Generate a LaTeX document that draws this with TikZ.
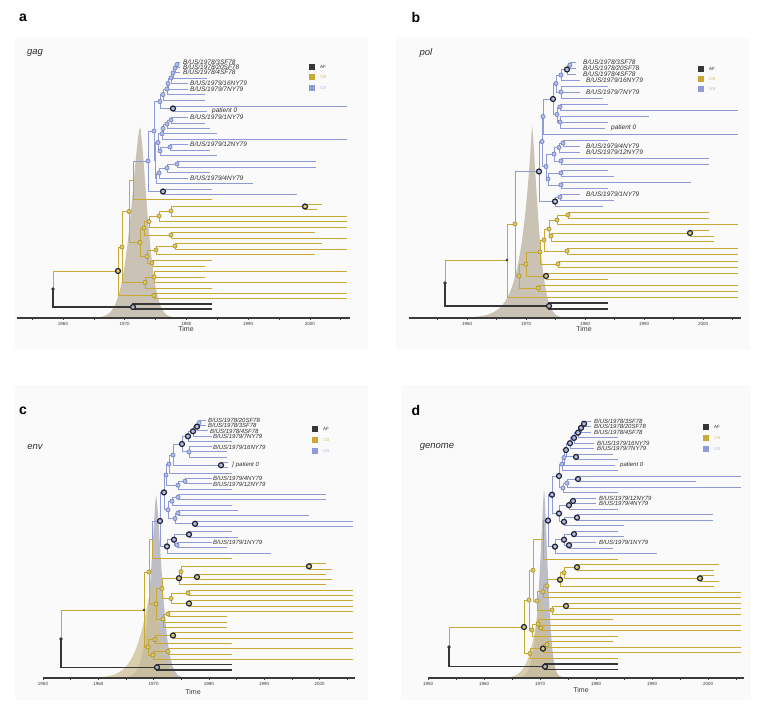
\documentclass[tikz,border=0pt]{standalone}
\usepackage{fontspec}
\setmainfont{Liberation Sans}
\definecolor{usc}{HTML}{8E9BD6}
\definecolor{usd}{HTML}{6E7CC0}
\definecolor{usl}{HTML}{B4BDE6}
\definecolor{cbc}{HTML}{C8A934}
\definecolor{cbd}{HTML}{A88F22}
\definecolor{cbl}{HTML}{DCC96E}
\definecolor{afc}{HTML}{363636}
\definecolor{dk}{HTML}{1E2130}
\definecolor{dens}{HTML}{C9C2B5}
\definecolor{densg}{HTML}{BDBDC5}
\definecolor{denst}{HTML}{CDBE92}
\definecolor{bgc}{HTML}{FAFAFA}
\definecolor{labc}{HTML}{2E2E2E}
\definecolor{axc}{HTML}{3A3A3A}
\newcounter{tipc}
\newcommand\Br[5]{\coordinate (#2) at (#3,#4); \draw[#5] (#1) |- (#2);}
\newcommand\Tp[4]{\stepcounter{tipc}\edef\tpn{tip\arabic{tipc}}\Br{#1}{\tpn}{#2}{#3}{#4}}
\begin{document}
\begin{tikzpicture}[x=1pt,y=-1pt,
  us/.style={draw=usc, line width=1},
  cb/.style={draw=cbc, line width=1},
  af/.style={draw=afc, line width=1.3},
  mus/.style={circle, draw=usd, fill=usl, line width=0.6, inner sep=0, minimum size=4.2},
  mcb/.style={circle, draw=cbd, fill=cbl, line width=0.6, inner sep=0, minimum size=4.2},
  mdk/.style={circle, draw=dk, fill=#1, line width=1.2, inner sep=0, minimum size=5},
  mdk/.default=white,
  mroot/.style={circle, fill=afc, inner sep=0, minimum size=3.8},
  msmall/.style={circle, fill=afc, inner sep=0, minimum size=2.6},
  laba/.style={font=\fontsize{6.5}{7}\selectfont\itshape, anchor=west, inner sep=0, text=labc},
  labc/.style={font=\fontsize{6}{6.5}\selectfont\itshape, anchor=west, inner sep=0, text=labc},
  plet/.style={font=\fontsize{14}{16}\selectfont\bfseries, inner sep=0},
  gene/.style={font=\fontsize{9.5}{11}\selectfont\itshape, inner sep=0, text=labc},
  lsq/.style={rectangle, inner sep=0, minimum size=6},
  ltx/.style={font=\fontsize{4.5}{5}\selectfont, anchor=west, inner sep=0},
  axis/.style={draw=axc, line width=1.5},
  tk/.style={draw=axc, line width=0.6},
  tkl/.style={font=\fontsize{4.5}{5}\selectfont, inner sep=0, text=axc},
  timel/.style={font=\fontsize{7}{8}\selectfont, inner sep=0, text=axc}]
\useasboundingbox (0,0) rectangle (762,707);
\fill[white] (0,0) rectangle (762,707);
% panel backgrounds
\fill[bgc] (15,38) rectangle (368,350);
\fill[bgc] (396,38) rectangle (750,350);
\fill[bgc] (15,385) rectangle (368,700);
\fill[bgc] (401,385) rectangle (751,700);
% densities
\fill[dens] plot[domain=80:140,samples=80] (\x,{318-191*exp(max(-9,-1*pow((140.01-\x)/13,1.5)))}) -- plot[domain=140:185,samples=60] (\x,{318-191*exp(max(-9,-1*pow((\x-139.99)/10.5,1.5)))}) -- cycle;
\fill[dens] plot[domain=440:532,samples=90] (\x,{318-193*exp(max(-9,-1*pow((532.01-\x)/11,1)))}) -- plot[domain=532:575,samples=60] (\x,{318-193*exp(max(-9,-1*pow((\x-531.99)/8.5,1.35)))}) -- cycle;
\fill[densg] plot[domain=100:156,samples=80] (\x,{678-183*exp(max(-9,-1*pow((156.01-\x)/8,1.3)))}) -- plot[domain=156:190,samples=60] (\x,{678-183*exp(max(-9,-1*pow((\x-155.99)/8.5,1.5)))}) -- cycle;
\fill[denst,opacity=0.75] plot[domain=95:152,samples=80] (\x,{678-95*exp(max(-9,-1*pow((152.01-\x)/14,1.2)))}) -- plot[domain=152:190,samples=60] (\x,{678-95*exp(max(-9,-1*pow((\x-151.99)/10,1.5)))}) -- cycle;
\fill[densg] plot[domain=495:544,samples=80] (\x,{678-189*exp(max(-9,-1*pow((544.01-\x)/6.5,1.3)))}) -- plot[domain=544:575,samples=60] (\x,{678-189*exp(max(-9,-1*pow((\x-543.99)/5.5,1.5)))}) -- cycle;
\fill[denst,opacity=0.75] plot[domain=490:541,samples=80] (\x,{678-80*exp(max(-9,-1*pow((541.01-\x)/10,1.3)))}) -- plot[domain=541:575,samples=60] (\x,{678-80*exp(max(-9,-1*pow((\x-540.99)/8,1.5)))}) -- cycle;
% axes
\draw[axis] (17,318) -- (350,318);
\foreach \yr in {1955,1960,...,2005} {\draw[tk] ({63+(\yr-1960)*6.17},318) -- ++(0,2);}
\foreach \yr in {1960,1970,...,2000} {\node[tkl] (at\yr) at ({63+(\yr-1960)*6.17},323.5) {\yr};}
\node[timel] (aTime) at (186,329) {Time};
\draw[axis] (409,318) -- (741,318);
\foreach \yr in {1955,1960,...,2005} {\draw[tk] ({467+(\yr-1960)*5.9},318) -- ++(0,2);}
\foreach \yr in {1960,1970,...,2000} {\node[tkl] (bt\yr) at ({467+(\yr-1960)*5.9},323.5) {\yr};}
\node[timel] (bTime) at (584,329) {Time};
\draw[axis] (43,678) -- (355,678);
\foreach \yr in {1950,1955,...,2005} {\draw[tk] ({43+(\yr-1950)*5.53},678) -- ++(0,2);}
\foreach \yr in {1950,1960,...,2000} {\node[tkl] (ct\yr) at ({43+(\yr-1950)*5.53},684) {\yr};}
\node[timel] (cTime) at (193,692) {Time};
\draw[axis] (428,678) -- (744,678);
\foreach \yr in {1950,1955,...,2005} {\draw[tk] ({428+(\yr-1950)*5.6},678) -- ++(0,2);}
\foreach \yr in {1950,1960,...,2000} {\node[tkl] (dt\yr) at ({428+(\yr-1950)*5.6},684) {\yr};}
\node[timel] (dTime) at (581,690) {Time};
% ================= panel a =================
\coordinate (aR) at (53,289);
\Br{aR}{aA}{133}{307}{af}
\Tp{aA}{212}{304}{af}
\Tp{aA}{212}{309}{af}
\Br{aR}{aN1}{118}{271}{cb}
\Br{aN1}{aP1}{154}{295.5}{cb}
\Tp{aP1}{347}{293}{cb}
\Tp{aP1}{347}{298}{cb}
\Br{aN1}{aN2}{122}{247}{cb}
\Br{aN2}{aQ}{145}{282.5}{cb}
\Br{aQ}{aQ1}{154}{277}{cb}
\Tp{aQ1}{347}{271}{cb}
\Tp{aQ1}{205}{277}{cb}
\Tp{aQ1}{347}{282}{cb}
\Tp{aQ}{212}{288}{cb}
\Br{aN2}{aN3}{129}{211.5}{cb}
\Br{aN3}{aC1}{140}{242.5}{cb}
\Br{aC1}{aC2}{144}{228}{cb}
\Br{aC2}{aC21}{149}{221.5}{cb}
\Br{aC21}{aC211}{159}{216}{cb}
\Br{aC211}{aD0}{171}{211}{cb}
\Br{aD0}{aD}{305}{206.5}{cb}
\Tp{aD}{322}{204}{cb}
\Tp{aD}{317}{209}{cb}
\Tp{aD0}{347}{216}{cb}
\Tp{aC211}{347}{221}{cb}
\Tp{aC21}{347}{227}{cb}
\Br{aC2}{aC22}{171}{235}{cb}
\Tp{aC22}{315}{232}{cb}
\Tp{aC22}{347}{238}{cb}
\Br{aC1}{aC3}{147}{256.5}{cb}
\Br{aC3}{aC31}{156}{250}{cb}
\Br{aC31}{aC311}{175}{246}{cb}
\Tp{aC311}{322}{243}{cb}
\Tp{aC311}{347}{249}{cb}
\Tp{aC31}{315}{254}{cb}
\Br{aC3}{aC32}{152}{263}{cb}
\Tp{aC32}{212}{260}{cb}
\Tp{aC32}{205}{266}{cb}
\Br{aN3}{aN4}{133}{180}{cb}
\Tp{aN4}{212}{199}{cb}
\Br{aN4}{aB0}{148}{161}{us}
\Br{aB0}{aB2}{163}{191.5}{us}
\Tp{aB2}{212}{189}{us}
\Tp{aB2}{297}{194}{us}
\Br{aB0}{aB1}{154}{131}{us}
\Br{aB1}{aB3}{160}{101.5}{us}
\Br{aB3}{aP0}{173}{108.5}{us}
\Tp{aP0}{347}{106}{us}
\Tp{aP0}{207}{111}{us}
\Br{aB3}{aS7}{163}{94.5}{us}
\Tp{aS7}{205}{100}{us}
\Br{aS7}{aS6}{167}{89}{us}
\Tp{aS6}{205}{94}{us}
\Br{aS6}{aS5}{168}{83.5}{us}
\Tp{aS5}{188}{89}{us}
\Br{aS5}{aS4}{171}{78}{us}
\Tp{aS4}{188}{83}{us}
\Br{aS4}{aS3}{173}{73}{us}
\Tp{aS3}{207}{78}{us}
\Br{aS3}{aS2}{175}{68}{us}
\Tp{aS2}{180}{72}{us}
\Br{aS2}{aS1}{177}{64.5}{us}
\Tp{aS1}{180}{62}{us}
\Tp{aS1}{180}{67}{us}
\Br{aB1}{aB4}{155}{160.5}{us}
\Br{aB4}{aB4a}{158}{142.5}{us}
\Br{aB4a}{aU4}{162}{133.8}{us}
\Br{aU4}{aU3}{163}{128.5}{us}
\Br{aU3}{aU2}{167}{124}{us}
\Br{aU2}{aU1}{171}{120}{us}
\Tp{aU1}{188}{117}{us}
\Tp{aU1}{205}{123}{us}
\Tp{aU2}{210}{128}{us}
\Tp{aU3}{217}{133}{us}
\Tp{aU4}{347}{139}{us}
\Br{aB4a}{aU6}{160}{151}{us}
\Br{aU6}{aU5}{170}{147}{us}
\Tp{aU5}{188}{144}{us}
\Tp{aU5}{210}{150}{us}
\Tp{aU6}{217}{155}{us}
\Br{aB4}{aB4b}{156}{178}{us}
\Br{aB4b}{aU9}{159}{173}{us}
\Br{aU9}{aU8}{167}{168}{us}
\Br{aU8}{aU7}{177}{164}{us}
\Tp{aU7}{316}{161}{us}
\Tp{aU7}{316}{167}{us}
\Tp{aU8}{210}{172}{us}
\Tp{aU9}{188}{178}{us}
\Tp{aB4b}{253}{183}{us}
\foreach \n in {aN2,aN3,aC1,aC2,aC21,aC211,aD0,aC22,aC3,aC31,aC311,aC32,aQ,aQ1,aP1} {\node[mcb] (m\n) at (\n) {};}
\foreach \n in {aB0,aB1,aB3,aS7,aS6,aS5,aS4,aS3,aS2,aS1,aB4a,aU4,aU3,aU2,aU1,aU6,aU5,aU9,aU8,aU7} {\node[mus] (m\n) at (\n) {};}
\foreach \n in {aP0,aB2} {\node[mdk=usl] (m\n) at (\n) {};}
\foreach \n in {aN1,aD} {\node[mdk=cbl] (m\n) at (\n) {};}
\node[mdk=gray!60] (maA) at (aA) {};
\node[mroot] (maR) at (aR) {};
\node[laba] (la1) at (183,62) {B/US/1978/3SF78};
\node[laba] (la2) at (183,67) {B/US/1978/20SF78};
\node[laba] (la3) at (183,72) {B/US/1978/4SF78};
\node[laba] (la4) at (190,83) {B/US/1979/16NY79};
\node[laba] (la5) at (190,89) {B/US/1979/7NY79};
\node[laba] (la6) at (212,111) {patient 0};
\node[laba] (la7) at (190,117) {B/US/1979/1NY79};
\node[laba] (la8) at (190,144) {B/US/1979/12NY79};
\node[laba] (la9) at (190,178) {B/US/1979/4NY79};
\node[plet] (aLet) at (23,17.5) {a};
\node[gene] (aGene) at (35,53) {gag};
\node[lsq,fill=afc] (aL1) at (312,67) {};
\node[lsq,fill=cbc] (aL2) at (312,77) {};
\node[lsq,fill=usc] (aL3) at (312,88) {};
\node[ltx,text=afc] (aT1) at (320,67) {AF};
\node[ltx,text=cbc!70] (aT2) at (320,77) {CB};
\node[ltx,text=usc!70] (aT3) at (320,88) {US};
% ================= panel b =================
\coordinate (bR) at (445,283);
\Br{bR}{bA}{549}{306}{af}
\Tp{bA}{608}{303}{af}
\Tp{bA}{608}{309}{af}
\Br{bR}{bG1}{507}{260}{cb}
\Tp{bG1}{738}{297}{cb}
\Br{bG1}{bG2}{515}{224}{cb}
\Br{bG2}{bH11}{519}{276}{cb}
\Br{bH11}{bH12}{538}{288}{cb}
\Tp{bH12}{738}{285}{cb}
\Tp{bH12}{738}{291}{cb}
\Br{bH11}{bH10}{526}{264}{cb}
\Br{bH10}{bDK}{546}{276}{cb}
\Tp{bDK}{738}{273}{cb}
\Tp{bDK}{608}{279}{cb}
\Br{bH10}{bH9}{540}{252}{cb}
\Br{bH9}{bH7}{558}{264}{cb}
\Tp{bH7}{738}{261}{cb}
\Tp{bH7}{738}{267}{cb}
\Br{bH9}{bH5}{544}{240}{cb}
\Br{bH5}{bH6}{567}{251}{cb}
\Tp{bH6}{738}{248}{cb}
\Tp{bH6}{738}{254}{cb}
\Br{bH5}{bH4}{549}{229}{cb}
\Br{bH4}{bH1}{551}{236}{cb}
\Br{bH1}{bD}{690}{233}{cb}
\Tp{bD}{709}{230}{cb}
\Tp{bD}{714}{236}{cb}
\Tp{bH1}{714}{241}{cb}
\Br{bH4}{bH2}{557}{220}{cb}
\Tp{bH2}{738}{224}{cb}
\Br{bH2}{bH3}{568}{215}{cb}
\Tp{bH3}{709}{212}{cb}
\Tp{bH3}{709}{218}{cb}
\Br{bG2}{bL0}{539}{171.5}{us}
\Br{bL0}{bBD}{555}{201.5}{us}
\Tp{bBD}{603}{206}{us}
\Br{bBD}{bBD1}{560}{197}{us}
\Tp{bBD1}{580}{194}{us}
\Tp{bBD1}{614}{200}{us}
\Br{bL0}{bBU}{542}{141.5}{us}
\Br{bBU}{bBU2}{546}{166.5}{us}
\Br{bBU2}{bW7}{548}{179}{us}
\Br{bW7}{bW5}{561}{173}{us}
\Tp{bW5}{608}{170}{us}
\Tp{bW5}{614}{176}{us}
\Br{bW7}{bW6}{561}{185}{us}
\Tp{bW6}{691}{182}{us}
\Tp{bW6}{608}{188}{us}
\Br{bBU2}{bW3}{554}{154}{us}
\Br{bW3}{bW4}{561}{161}{us}
\Tp{bW4}{709}{158}{us}
\Tp{bW4}{709}{164}{us}
\Br{bW3}{bW2}{559}{147.5}{us}
\Tp{bW2}{580}{152}{us}
\Br{bW2}{bW1}{563}{143}{us}
\Tp{bW1}{608}{140}{us}
\Tp{bW1}{580}{146}{us}
\Br{bBU}{bBU1}{543}{116.5}{us}
\Tp{bBU1}{738}{134}{us}
\Br{bBU1}{bBT}{553}{99}{us}
\Br{bBT}{bBT2}{557}{114.5}{us}
\Br{bBT2}{bBT22}{560}{122}{us}
\Tp{bBT22}{649}{116}{us}
\Tp{bBT22}{608}{122}{us}
\Tp{bBT22}{605}{128}{us}
\Br{bBT2}{bBT21}{560}{107}{us}
\Tp{bBT21}{608}{104}{us}
\Tp{bBT21}{738}{110}{us}
\Br{bBT}{bBT1}{556}{83.5}{us}
\Br{bBT1}{bS4}{561}{92}{us}
\Tp{bS4}{608}{86}{us}
\Tp{bS4}{580}{92}{us}
\Tp{bS4}{603}{98}{us}
\Br{bBT1}{bS3}{561}{75}{us}
\Tp{bS3}{580}{80}{us}
\Br{bS3}{bS2}{567}{69.5}{us}
\Tp{bS2}{576}{74}{us}
\Br{bS2}{bS1}{570}{65}{us}
\Tp{bS1}{576}{62}{us}
\Tp{bS1}{576}{68}{us}
\foreach \n in {bG2,bH11,bH10,bH9,bH5,bH4,bH1,bH2,bH3,bH6,bH7,bH12} {\node[mcb] (m\n) at (\n) {};}
\foreach \n in {bBU,bBU1,bBU2,bW1,bW2,bW3,bW4,bW5,bW6,bW7,bBT1,bBT2,bBT21,bBT22,bS1,bS3,bS4,bBD1} {\node[mus] (m\n) at (\n) {};}
\foreach \n in {bL0,bBT,bS2,bBD} {\node[mdk=usl] (m\n) at (\n) {};}
\foreach \n in {bDK,bD} {\node[mdk=cbl] (m\n) at (\n) {};}
\node[mdk=gray!60] (mbA) at (bA) {};
\node[msmall] (mbG1) at (bG1) {};
\node[mroot] (mbR) at (bR) {};
\node[laba] (lb1) at (583,62) {B/US/1978/3SF78};
\node[laba] (lb2) at (583,68) {B/US/1978/20SF78};
\node[laba] (lb3) at (583,74) {B/US/1978/4SF78};
\node[laba] (lb4) at (586,80) {B/US/1979/16NY79};
\node[laba] (lb5) at (586,92) {B/US/1979/7NY79};
\node[laba] (lb6) at (611,128) {patient 0};
\node[laba] (lb7) at (586,146) {B/US/1979/4NY79};
\node[laba] (lb8) at (586,152) {B/US/1979/12NY79};
\node[laba] (lb9) at (586,194) {B/US/1979/1NY79};
\node[plet] (bLet) at (416,17.5) {b};
\node[gene] (bGene) at (426,53) {pol};
\node[lsq,fill=afc] (bL1) at (701,69) {};
\node[lsq,fill=cbc] (bL2) at (701,79) {};
\node[lsq,fill=usc] (bL3) at (701,89) {};
\node[ltx,text=afc] (bT1) at (709,69) {AF};
\node[ltx,text=cbc!70] (bT2) at (709,79) {CB};
\node[ltx,text=usc!70] (bT3) at (709,89) {US};
% ================= panel c =================
\coordinate (cR) at (61,639);
\Br{cR}{cA}{157}{667.3}{af}
\Tp{cA}{232}{664.7}{af}
\Tp{cA}{232}{670}{af}
\Br{cR}{cG1}{144}{610}{cb}
\Br{cG1}{cG3}{148}{647}{cb}
\Br{cG3}{cX8}{153}{655}{cb}
\Tp{cX8}{353}{659.4}{cb}
\Br{cX8}{cX10}{168}{651.4}{cb}
\Tp{cX10}{353}{648.8}{cb}
\Tp{cX10}{232}{654.1}{cb}
\Br{cG3}{cX7}{155}{639.5}{cb}
\Tp{cX7}{232}{643.4}{cb}
\Br{cX7}{cX9}{173}{635.5}{cb}
\Tp{cX9}{353}{632.8}{cb}
\Tp{cX9}{353}{638.1}{cb}
\Br{cG1}{cG2}{149}{572}{cb}
\Br{cG2}{cG4}{156}{604}{cb}
\Br{cG4}{cG6}{163}{619}{cb}
\Br{cG6}{cX6}{168}{614}{cb}
\Tp{cX6}{353}{611.5}{cb}
\Tp{cX6}{227}{616.8}{cb}
\Tp{cG6}{227}{622.2}{cb}
\Tp{cG6}{227}{627.5}{cb}
\Br{cG4}{cG5}{162}{588.5}{cb}
\Br{cG5}{cG8}{171}{598.5}{cb}
\Br{cG8}{cX5}{189}{603.5}{cb}
\Tp{cX5}{353}{600.9}{cb}
\Tp{cX5}{353}{606.2}{cb}
\Br{cG8}{cX4}{188}{593}{cb}
\Tp{cX4}{353}{590.2}{cb}
\Tp{cX4}{353}{595.6}{cb}
\Br{cG5}{cX3}{179}{578.2}{cb}
\Tp{cX3}{326}{584.9}{cb}
\Br{cX3}{cY1}{181}{571.6}{cb}
\Br{cY1}{cX2}{197}{577}{cb}
\Tp{cX2}{326}{574.3}{cb}
\Tp{cX2}{332}{579.6}{cb}
\Br{cY1}{cX1}{309}{566.3}{cb}
\Tp{cX1}{326}{563.6}{cb}
\Tp{cX1}{332}{569.0}{cb}
\Br{cG2}{cGB}{152}{539.6}{cb}
\Tp{cGB}{232}{558.3}{cb}
\Br{cGB}{cBB}{160}{521}{us}
\Br{cBB}{cBC}{167}{546.4}{us}
\Tp{cBC}{271}{553.0}{us}
\Br{cBC}{cBC1}{174}{539.7}{us}
\Br{cBC1}{cBC3}{177}{545}{us}
\Tp{cBC3}{212}{542.4}{us}
\Tp{cBC3}{227}{547.7}{us}
\Br{cBC1}{cBC2}{189}{534.4}{us}
\Tp{cBC2}{232}{531.7}{us}
\Tp{cBC2}{238}{537.0}{us}
\Br{cBB}{cBA}{164}{492.4}{us}
\Br{cBA}{cBAL}{168}{509.8}{us}
\Br{cBAL}{cZ5}{175}{518.5}{us}
\Br{cZ5}{cZ4}{195}{523.8}{us}
\Tp{cZ4}{353}{521.1}{us}
\Tp{cZ4}{353}{526.4}{us}
\Br{cZ5}{cZ3}{178}{513.1}{us}
\Tp{cZ3}{238}{510.4}{us}
\Tp{cZ3}{309}{515.8}{us}
\Br{cBAL}{cZ2}{172}{501.1}{us}
\Tp{cZ2}{232}{505.1}{us}
\Br{cZ2}{cZ1}{178}{497.2}{us}
\Tp{cZ1}{326}{494.5}{us}
\Tp{cZ1}{326}{499.8}{us}
\Br{cBA}{cBAU}{166}{475}{us}
\Br{cBAU}{cT10}{178}{485.2}{us}
\Tp{cT10}{232}{489.2}{us}
\Br{cT10}{cT11}{185}{481.2}{us}
\Tp{cT11}{212}{478.5}{us}
\Tp{cT11}{212}{483.8}{us}
\Br{cBAU}{cT9}{169}{464}{us}
\Tp{cT9}{232}{473.2}{us}
\Br{cT9}{cT8}{173}{455}{us}
\Br{cT8}{cP0}{221}{465.2}{us}
\Tp{cP0}{228}{462.6}{us}
\Tp{cP0}{228}{467.9}{us}
\Br{cT8}{cT5}{182}{444}{us}
\Br{cT5}{cT7}{189}{451.9}{us}
\Tp{cT7}{212}{446.6}{us}
\Tp{cT7}{227}{451.9}{us}
\Tp{cT7}{227}{457.2}{us}
\Br{cT5}{cT4}{188}{436.3}{us}
\Tp{cT4}{232}{441.3}{us}
\Br{cT4}{cT3}{193}{431.3}{us}
\Tp{cT3}{212}{436.0}{us}
\Br{cT3}{cT2}{197}{426.6}{us}
\Tp{cT2}{208}{430.6}{us}
\Br{cT2}{cT1}{199}{422.7}{us}
\Tp{cT1}{206}{420.0}{us}
\Tp{cT1}{206}{425.3}{us}
\foreach \n in {cG2,cG4,cG5,cG6,cX6,cG8,cX4,cY1,cG3,cX7,cX8,cX10} {\node[mcb] (m\n) at (\n) {};}
\foreach \n in {cT1,cT7,cT8,cT9,cT10,cT11,cBAU,cBAL,cZ1,cZ2,cZ3,cZ5,cBC3} {\node[mus] (m\n) at (\n) {};}
\foreach \n in {cT2,cT3,cT4,cT5,cP0,cBA,cBB,cZ4,cBC2,cBC1,cBC} {\node[mdk=usl] (m\n) at (\n) {};}
\foreach \n in {cX1,cX2,cX3,cX5,cX9} {\node[mdk=cbl] (m\n) at (\n) {};}
\node[mdk=gray!60] (mcA) at (cA) {};
\node[msmall] (mcG1) at (cG1) {};
\node[mroot] (mcR) at (cR) {};
\node[labc] (lc1) at (208,420) {B/US/1978/20SF78};
\node[labc] (lc2) at (208,425.3) {B/US/1978/3SF78};
\node[labc] (lc3) at (210,431) {B/US/1978/4SF78};
\node[labc] (lc4) at (213,436.6) {B/US/1979/7NY79};
\node[labc] (lc5) at (213,447) {B/US/1979/16NY79};
\node[labc] (lc6) at (232,465.2) {]\hspace{2pt}patient 0};
\node[labc] (lc7) at (213,478.8) {B/US/1979/4NY79};
\node[labc] (lc8) at (213,484.5) {B/US/1979/12NY79};
\node[labc] (lc9) at (213,542.6) {B/US/1979/1NY79};
\node[plet] (cLet) at (23,411) {c};
\node[gene] (cGene) at (35,447) {env};
\node[lsq,fill=afc] (cL1) at (315,429) {};
\node[lsq,fill=cbc] (cL2) at (315,440) {};
\node[lsq,fill=usc] (cL3) at (315,451) {};
\node[ltx,text=afc] (cT1l) at (323,429) {AF};
\node[ltx,text=cbc!70] (cT2l) at (323,440) {CB};
\node[ltx,text=usc!70] (cT3l) at (323,451) {US};
% ================= panel d =================
\coordinate (dR) at (449,647);
\Br{dR}{dA}{545}{666.6}{af}
\Tp{dA}{618}{663.9}{af}
\Tp{dA}{618}{669.4}{af}
\Br{dR}{dG1}{524}{627}{cb}
\Br{dG1}{dG3}{530}{653.5}{cb}
\Tp{dG3}{618}{658.4}{cb}
\Br{dG3}{dX12}{543}{648.6}{cb}
\Tp{dX12}{741}{652.8}{cb}
\Br{dX12}{dX13}{547}{644.5}{cb}
\Tp{dX13}{613}{641.8}{cb}
\Tp{dX13}{741}{647.3}{cb}
\Br{dG1}{dG2}{529}{600}{cb}
\Br{dG2}{dG5}{532}{630}{cb}
\Tp{dG5}{618}{636.3}{cb}
\Br{dG5}{dX11}{538}{624}{cb}
\Tp{dX11}{613}{619.7}{cb}
\Br{dX11}{dX10}{541}{628}{cb}
\Tp{dX10}{741}{625.2}{cb}
\Tp{dX10}{741}{630.8}{cb}
\Br{dG2}{dG4}{533}{570.2}{cb}
\Br{dG4}{dX7}{537}{601}{cb}
\Br{dX7}{dX9}{552}{610}{cb}
\Tp{dX9}{741}{614.2}{cb}
\Br{dX9}{dX8}{566}{606}{cb}
\Tp{dX8}{741}{603.2}{cb}
\Tp{dX8}{741}{608.7}{cb}
\Br{dX7}{dX6}{543}{591.8}{cb}
\Tp{dX6}{741}{597.6}{cb}
\Br{dX6}{dX5}{547}{585.9}{cb}
\Tp{dX5}{741}{592.1}{cb}
\Br{dX5}{dX3}{560}{579.7}{cb}
\Tp{dX3}{714}{586.6}{cb}
\Br{dX3}{dX2}{564}{572.8}{cb}
\Br{dX2}{dX4}{700}{578.3}{cb}
\Tp{dX4}{714}{575.6}{cb}
\Tp{dX4}{719}{581.1}{cb}
\Br{dX2}{dX1}{577}{567.2}{cb}
\Tp{dX1}{719}{564.5}{cb}
\Tp{dX1}{714}{570.0}{cb}
\Br{dG4}{dGB}{543}{539.8}{cb}
\Tp{dGB}{618}{559.0}{cb}
\Br{dGB}{dBB}{548}{520.6}{us}
\Br{dBB}{dBL}{555}{546.6}{us}
\Tp{dBL}{657}{553.5}{us}
\Br{dBL}{dY3}{564}{539.7}{us}
\Br{dY3}{dY2}{569}{545.2}{us}
\Tp{dY2}{596}{542.4}{us}
\Tp{dY2}{613}{548.0}{us}
\Br{dY3}{dY1}{574}{534.1}{us}
\Tp{dY1}{618}{531.4}{us}
\Tp{dY1}{624}{536.9}{us}
\Br{dBB}{dBU}{552}{494.7}{us}
\Br{dBU}{dBUb}{559}{513.5}{us}
\Br{dBUb}{dY5}{564}{521.8}{us}
\Tp{dY5}{624}{525.9}{us}
\Br{dY5}{dY4}{577}{517.6}{us}
\Tp{dY4}{713}{514.8}{us}
\Tp{dY4}{713}{520.4}{us}
\Br{dBUb}{dY7}{569}{505.2}{us}
\Tp{dY7}{618}{509.3}{us}
\Br{dY7}{dY6}{573}{501}{us}
\Tp{dY6}{596}{498.3}{us}
\Tp{dY6}{596}{503.8}{us}
\Br{dBU}{dBUa}{559}{476}{us}
\Br{dBUa}{dV12}{563}{487.9}{us}
\Tp{dV12}{618}{492.8}{us}
\Br{dV12}{dV11}{567}{483.1}{us}
\Tp{dV11}{741}{487.2}{us}
\Br{dV11}{dV10}{578}{479}{us}
\Tp{dV10}{741}{476.2}{us}
\Tp{dV10}{696}{481.7}{us}
\Br{dBUa}{dV9}{562}{464.1}{us}
\Tp{dV9}{618}{470.7}{us}
\Br{dV9}{dV8}{564}{457.6}{us}
\Tp{dV8}{615}{465.2}{us}
\Br{dV8}{dV7}{566}{450}{us}
\Br{dV7}{dV6}{576}{456.9}{us}
\Tp{dV6}{613}{454.1}{us}
\Tp{dV6}{618}{459.6}{us}
\Br{dV7}{dV5}{570}{443.2}{us}
\Tp{dV5}{594}{448.6}{us}
\Br{dV5}{dV4}{574}{437.9}{us}
\Tp{dV4}{594}{443.1}{us}
\Br{dV4}{dV3}{578}{432.7}{us}
\Tp{dV3}{618}{437.6}{us}
\Br{dV3}{dV2}{581}{427.9}{us}
\Tp{dV2}{591}{432.0}{us}
\Br{dV2}{dV1}{584}{423.8}{us}
\Tp{dV1}{591}{421.0}{us}
\Tp{dV1}{591}{426.5}{us}
\foreach \n in {dG2,dG3,dG4,dG5,dX2,dX5,dX6,dX7,dX9,dX10,dX11,dX13} {\node[mcb] (m\n) at (\n) {};}
\foreach \n in {dV8,dV9,dV11,dV12} {\node[mus] (m\n) at (\n) {};}
\foreach \n in {dV1,dV2,dV3,dV4,dV5,dV6,dV7,dBUa,dV10,dBU,dY6,dY7,dBUb,dY4,dY5,dBB,dY1,dY3,dY2,dBL} {\node[mdk=usl] (m\n) at (\n) {};}
\foreach \n in {dG1,dX1,dX3,dX4,dX8,dX12} {\node[mdk=cbl] (m\n) at (\n) {};}
\node[mdk=gray!60] (mdA) at (dA) {};
\node[mroot] (mdR) at (dR) {};
\node[labc] (ld1) at (594,421) {B/US/1978/3SF78};
\node[labc] (ld2) at (594,426.5) {B/US/1978/20SF78};
\node[labc] (ld3) at (594,432) {B/US/1978/4SF78};
\node[labc] (ld4) at (597,443.1) {B/US/1979/16NY79};
\node[labc] (ld5) at (597,448.6) {B/US/1979/7NY79};
\node[labc] (ld6) at (620,465.2) {patient 0};
\node[labc] (ld7) at (599,498.3) {B/US/1979/12NY79};
\node[labc] (ld8) at (599,503.8) {B/US/1979/4NY79};
\node[labc] (ld9) at (599,542.4) {B/US/1979/1NY79};
\node[plet] (dLet) at (416,410) {d};
\node[gene] (dGene) at (437,447) {genome};
\node[lsq,fill=afc] (dL1) at (706,427) {};
\node[lsq,fill=cbc] (dL2) at (706,438) {};
\node[lsq,fill=usc] (dL3) at (706,449) {};
\node[ltx,text=afc] (dT1l) at (714,427) {AF};
\node[ltx,text=cbc!70] (dT2l) at (714,438) {CB};
\node[ltx,text=usc!70] (dT3l) at (714,449) {US};
\end{tikzpicture}
\end{document}
